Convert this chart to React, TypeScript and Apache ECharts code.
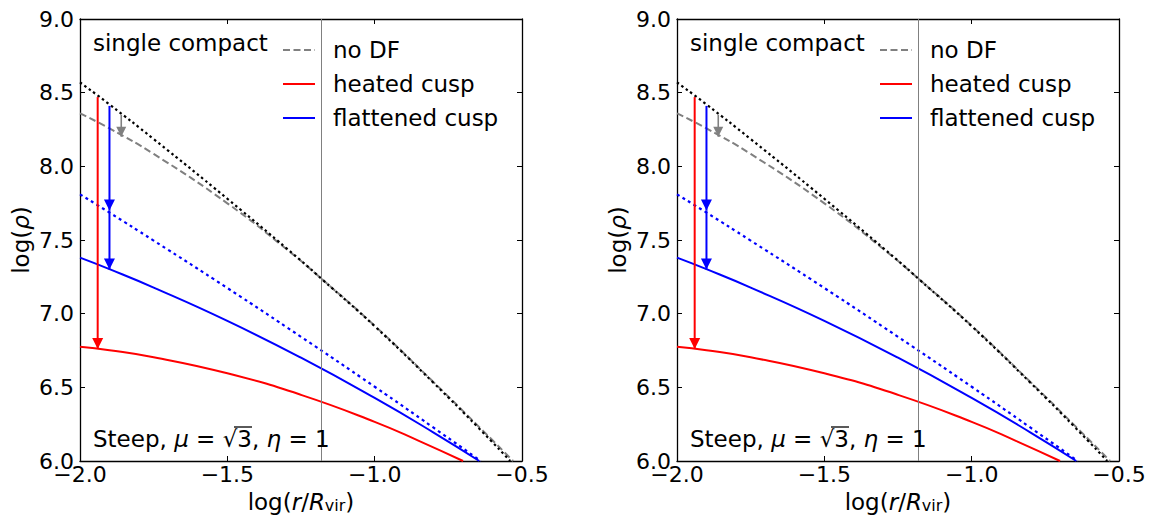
import React, { useEffect, useRef } from "react";
import * as echarts from "echarts";

// ---------- data ----------
const xTicks = [-2.0, -1.5, -1.0, -0.5];
const yTicks = [6.0, 6.5, 7.0, 7.5, 8.0, 8.5, 9.0];
const legendNames = ["no DF", "heated cusp", "flattened cusp"];
const virialRadius = [-1.18];

// black dotted: initial profile
const initialProfile: [number, number][] = [
  [-2.0, 8.57], [-1.9, 8.42], [-1.75, 8.185], [-1.5, 7.78], [-1.25, 7.36],
  [-1.18, 7.236], [-1.0, 6.915], [-0.8, 6.53], [-0.65, 6.23], [-0.54, 6.0],
];
// grey dashed: no DF
const noDF: [number, number][] = [
  [-2.0, 8.36], [-1.9, 8.257], [-1.75, 8.084], [-1.5, 7.749], [-1.3, 7.439],
  [-1.18, 7.236], [-1.0, 6.918], [-0.8, 6.535], [-0.65, 6.24], [-0.53, 6.0],
];
// blue dotted: flattened (before heating)
const flattenedInitial: [number, number][] = [
  [-2.0, 7.81], [-1.9, 7.686], [-1.75, 7.496], [-1.5, 7.174], [-1.25, 6.843],
  [-1.0, 6.504], [-0.8, 6.226], [-0.64, 6.0],
];
// blue solid: flattened cusp
const flattenedCusp: [number, number][] = [
  [-2.0, 7.38], [-1.9, 7.302], [-1.75, 7.177], [-1.5, 6.951], [-1.25, 6.701],
  [-1.0, 6.428], [-0.8, 6.193], [-0.645, 6.0],
];
// red solid: heated cusp
const heatedCusp: [number, number][] = [
  [-2.0, 6.776], [-1.9, 6.752], [-1.75, 6.704], [-1.5, 6.595], [-1.25, 6.449],
  [-1.0, 6.266], [-0.85, 6.137], [-0.7, 6.0],
];
// arrows
const arrowX = [-1.94, -1.9, -1.9, -1.86];
const arrowFrom = [8.47, 8.41, 7.7, 8.35];
const arrowTo = [6.76, 7.7, 7.3, 8.2];
const arrowKind = ["red", "blue", "blue", "grey"];

// ---------- styles / layout ----------
const FONT = "DejaVu Sans";
const GREY = "#808080";
const RED = "#ff0000";
const BLUE = "#0000ff";
const COLORS: Record<string, string> = { red: RED, blue: BLUE, grey: GREY };
const PANEL_LEFTS = [80, 677];
const TOP = 19;
const SIZE = 442;

const fmt = (v: number) => (v < 0 ? "\u2212" : "") + Math.abs(v).toFixed(1);

function buildOption() {
  const grid: any[] = [];
  const xAxis: any[] = [];
  const yAxis: any[] = [];
  const series: any[] = [];
  const graphic: any[] = [];
  const axisLine = { show: true, onZero: false, lineStyle: { color: "#000", width: 1.3 } };
  const axisTick = { show: true, inside: true, length: 5, lineStyle: { color: "#000", width: 1 } };

  PANEL_LEFTS.forEach((left, i) => {
    grid.push({ left, top: TOP, width: SIZE, height: SIZE, containLabel: false, outerBoundsMode: "none" });
    const xBase = {
      type: "value", gridIndex: i, min: xTicks[0], max: xTicks[xTicks.length - 1],
      interval: xTicks[1] - xTicks[0], splitLine: { show: false }, axisLine, axisTick,
    };
    const yBase = {
      type: "value", gridIndex: i, min: yTicks[0], max: yTicks[yTicks.length - 1],
      interval: yTicks[1] - yTicks[0], splitLine: { show: false }, axisLine, axisTick,
    };
    xAxis.push({
      ...xBase, position: "bottom",
      axisLabel: { fontSize: 22, fontFamily: FONT, color: "#000", margin: 2, formatter: fmt },
      name: "log({i|r}/{i|R}{s|vir})", nameLocation: "middle", nameGap: 27,
      nameTextStyle: {
        fontSize: 23, fontFamily: FONT, color: "#000", lineHeight: 24,
        rich: {
          i: { fontSize: 23, fontFamily: FONT, fontStyle: "italic", color: "#000", lineHeight: 24 },
          s: { fontSize: 16, fontFamily: FONT, color: "#000", lineHeight: 12, verticalAlign: "bottom" },
        },
      },
    });
    xAxis.push({ ...xBase, position: "top", axisLabel: { show: false } });
    yAxis.push({
      ...yBase, position: "left",
      axisLabel: { fontSize: 22, fontFamily: FONT, color: "#000", margin: 6, formatter: fmt },
      name: "log({i|ρ})", nameLocation: "middle", nameGap: 48, nameRotate: 90,
      nameTextStyle: {
        fontSize: 23, fontFamily: FONT, color: "#000",
        rich: { i: { fontSize: 23, fontFamily: FONT, fontStyle: "italic", color: "#000" } },
      },
    });
    yAxis.push({ ...yBase, position: "right", axisLabel: { show: false } });

    const xi = 2 * i;
    const base = { type: "line", xAxisIndex: xi, yAxisIndex: xi, showSymbol: false, symbol: "none", smooth: 0.5, silent: true };
    series.push({
      ...base, name: "initial", data: initialProfile, z: 3,
      lineStyle: { color: "#000", width: 2.2, type: [2.5, 3] },
      markLine: {
        silent: true, symbol: ["none", "none"], label: { show: false },
        lineStyle: { color: GREY, width: 1, type: "solid" },
        data: virialRadius.map((v) => ({ xAxis: v })),
      },
    });
    series.push({ ...base, name: legendNames[0], data: noDF, z: 2, lineStyle: { color: GREY, width: 2, type: [7, 3.5] } });
    series.push({ ...base, name: "flattened initial", data: flattenedInitial, lineStyle: { color: BLUE, width: 2.2, type: [3, 3.5] } });
    series.push({ ...base, name: legendNames[2], data: flattenedCusp, lineStyle: { color: BLUE, width: 2 } });
    series.push({ ...base, name: legendNames[1], data: heatedCusp, lineStyle: { color: RED, width: 2 } });
    arrowX.forEach((x, k) => {
      const c = COLORS[arrowKind[k]];
      const head = arrowKind[k] === "grey" ? 10 : 11;
      series.push({
        type: "line", xAxisIndex: xi, yAxisIndex: xi, silent: true, z: 5, smooth: false,
        showSymbol: true, showAllSymbol: true,
        lineStyle: { color: c, width: arrowKind[k] === "grey" ? 1.6 : 2 },
        itemStyle: { color: c },
        data: [
          { value: [x, arrowFrom[k]], symbol: "none" },
          { value: [x, arrowTo[k]], symbol: "triangle", symbolSize: [head, head], symbolRotate: 180, symbolOffset: [0, -head / 2] },
        ],
      });
    });

    // annotations & legend
    const ox = left - PANEL_LEFTS[0];
    const txt = (text: string, x: number, y: number, extra: any = {}) => ({
      type: "text", x, y, silent: true, z: 10,
      style: { text, fontSize: 23, fontFamily: FONT, fill: "#000", align: "left", verticalAlign: "middle", ...extra },
    });
    graphic.push(txt("single compact", 93 + ox, 43));
    const rows = [50, 84, 118];
    const legendStyles = [
      { stroke: GREY, lineWidth: 2, lineDash: [7, 3.5] },
      { stroke: RED, lineWidth: 2 },
      { stroke: BLUE, lineWidth: 2 },
    ];
    legendNames.forEach((n, k) => {
      graphic.push({ type: "line", silent: true, z: 10, shape: { x1: 283 + ox, y1: rows[k], x2: 315 + ox, y2: rows[k] }, style: legendStyles[k] });
      graphic.push(txt(n, 333 + ox, rows[k]));
    });
    graphic.push(
      txt("Steep, {i|μ} = √3, {i|η} = 1", 93 + ox, 439, {
        rich: { i: { fontSize: 23, fontFamily: FONT, fontStyle: "italic", fill: "#000" } },
      })
    );
    graphic.push({ type: "line", silent: true, z: 10, shape: { x1: 234 + ox, y1: 427, x2: 252 + ox, y2: 427 }, style: { stroke: "#000", lineWidth: 1.3 } });
  });

  return { animation: false, backgroundColor: "#fff", grid, xAxis, yAxis, series, graphic };
}

export default function App() {
  const ref = useRef<HTMLDivElement>(null);
  useEffect(() => {
    document.body.style.margin = "0";
    if (!ref.current) return;
    const chart = echarts.init(ref.current, undefined, { renderer: "svg" });
    chart.setOption(buildOption() as any);
    return () => chart.dispose();
  }, []);
  return <div ref={ref} style={{ width: 1150, height: 515 }} />;
}
